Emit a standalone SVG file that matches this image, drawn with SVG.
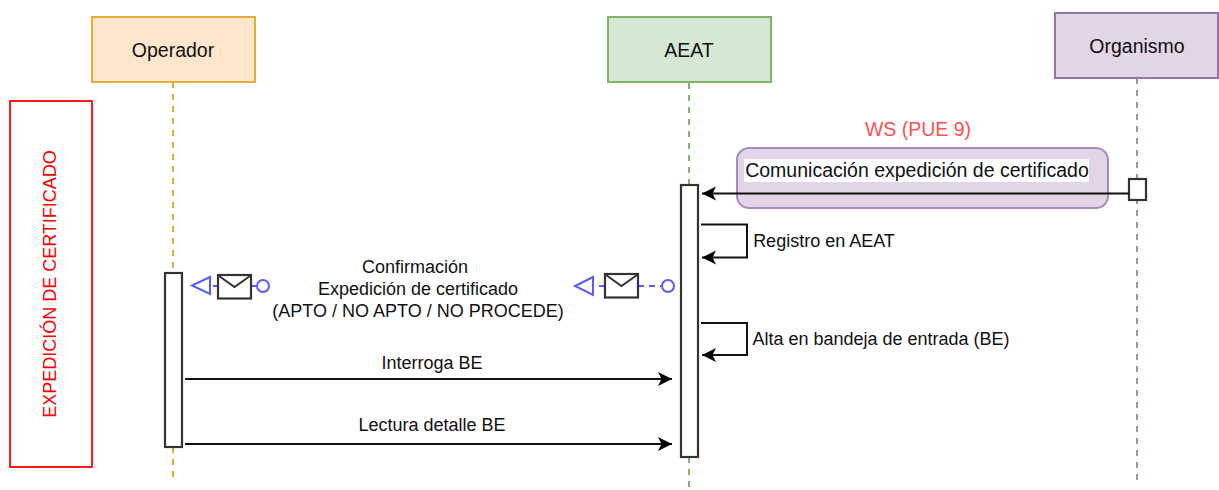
<svg xmlns="http://www.w3.org/2000/svg" width="1219" height="490" viewBox="0 0 1219 490">
<style>
text{font-family:"Liberation Sans",Arial,sans-serif;font-size:18px;fill:#111;text-anchor:middle}
.big{font-size:19.500px}
.ln{fill:none;stroke:#111;stroke-width:2}
.act{fill:#fff;stroke:#333;stroke-width:2.200}
.blue{fill:none;stroke:#5a5aff;stroke-width:2}
.dash{stroke-dasharray:6 6;stroke-width:2;fill:none}
.env{fill:#fff;stroke:#333;stroke-width:2.200}
.flap{fill:none;stroke:#333;stroke-width:2}
</style>
<defs>
<marker id="arr" markerUnits="userSpaceOnUse" markerWidth="18" markerHeight="18" refX="15" refY="9" orient="auto"><path d="M1 2 L15 9 L1 16 L4.500 9 Z" fill="#000"/></marker>
<g id="msg">
<rect x="0" y="0" width="33" height="23.500" class="env"/>
<path d="M1 1 L16.500 12 L32 1" class="flap"/>
</g>
</defs>
<rect width="1219" height="490" fill="#fff"/>
<g id="lifelines">
<line x1="173" y1="82" x2="173" y2="273" class="dash" stroke="#e6a93a"/>
<line x1="173" y1="447" x2="173" y2="480" class="dash" stroke="#e6a93a"/>
<line x1="689" y1="83" x2="689" y2="186" class="dash" stroke="#82b366"/>
<line x1="689" y1="457" x2="689" y2="490" class="dash" stroke="#82b366"/>
<line x1="1137" y1="78" x2="1137" y2="485" class="dash" stroke="#a98bbd"/>
</g>
<g id="node-operador"><rect x="92" y="17" width="163" height="65" fill="#ffe6cc" stroke="#e8ac3c" stroke-width="2"/><text class="big" x="173" y="57">Operador</text></g>
<g id="node-aeat"><rect x="608" y="17" width="163" height="65" fill="#d5e8d4" stroke="#82b366" stroke-width="2"/><text class="big" x="689" y="57">AEAT</text></g>
<g id="node-organismo"><rect x="1055" y="13" width="163" height="65" fill="#e1d5e7" stroke="#9673a6" stroke-width="2"/><text class="big" x="1137" y="53">Organismo</text></g>
<g id="node-expedicion"><rect x="10" y="101" width="82" height="366" fill="#fff" stroke="#ff1a1a" stroke-width="2"/><text transform="translate(56 284) rotate(-90)" style="fill:#ff0000">EXPEDICIÓN DE CERTIFICADO</text></g>
<g id="node-comunicacion"><rect x="737" y="148" width="371" height="60" rx="12" fill="#e1d5e7" stroke="#a98bbd" stroke-width="2"/><rect x="744" y="159" width="345" height="23" fill="#fff"/><text class="big" x="917" y="177">Comunicación expedición de certificado</text></g>
<g id="node-ws"><text class="big" x="918" y="136" style="fill:#ff5050">WS (PUE 9)</text></g>
<g id="node-act-operador"><rect x="165" y="273" width="17" height="174" class="act"/></g>
<g id="node-act-aeat"><rect x="681" y="185" width="17" height="272" class="act"/></g>
<g id="node-act-organismo"><rect x="1129" y="179" width="17" height="21" class="act"/></g>
<g id="connectors">
<line x1="1129" y1="193.500" x2="702" y2="193.500" class="ln" marker-end="url(#arr)"/>
<path d="M701 224.500 H747 V257.500 H702" class="ln" marker-end="url(#arr)"/>
<path d="M701 323 H747 V355 H702" class="ln" marker-end="url(#arr)"/>
<line x1="185" y1="379" x2="672" y2="379" class="ln" marker-end="url(#arr)"/>
<line x1="185" y1="444" x2="672" y2="444" class="ln" marker-end="url(#arr)"/>
<g id="msg-operador">
<path d="M210 277 L192 285.500 L210 294 Z" class="blue"/>
<line x1="213" y1="286" x2="218" y2="286" class="blue"/>
<line x1="251" y1="286" x2="257" y2="286" class="blue"/>
<circle cx="263" cy="286" r="6" class="blue"/>
<use href="#msg" x="218" y="275"/>
</g>
<g id="msg-aeat">
<path d="M593 277 L575 286 L593 295 Z" class="blue"/>
<line x1="599" y1="286" x2="605" y2="286" class="blue"/>
<path d="M638 286 H662" class="blue" stroke-dasharray="6 5"/>
<circle cx="668" cy="286" r="6" class="blue"/>
<use href="#msg" x="605" y="274"/>
</g>
</g>
<g id="labels">
<text x="415" y="273">Confirmación</text>
<text x="418" y="295">Expedición de certificado</text>
<text x="418" y="317">(APTO / NO APTO / NO PROCEDE)</text>
<text x="824" y="247">Registro en AEAT</text>
<text x="881" y="345">Alta en bandeja de entrada (BE)</text>
<text x="432" y="369">Interroga BE</text>
<text x="432" y="431">Lectura detalle BE</text>
</g>
</svg>
